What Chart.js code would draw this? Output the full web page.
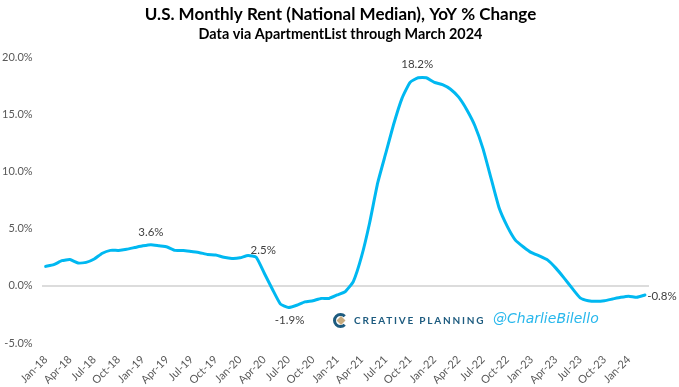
<!DOCTYPE html>
<html>
<head>
<meta charset="utf-8">
<title>U.S. Monthly Rent</title>
<script src="https://cdn.jsdelivr.net/npm/chart.js@4"></script>
<style>
  html, body { margin: 0; padding: 0; background: #fff; }
  canvas { display: block; }
</style>
</head>
<body>
<canvas id="chartRent" width="679" height="387"></canvas>
<script>
const months = [
  "Jan-18","Feb-18","Mar-18","Apr-18","May-18","Jun-18","Jul-18","Aug-18","Sep-18","Oct-18","Nov-18","Dec-18",
  "Jan-19","Feb-19","Mar-19","Apr-19","May-19","Jun-19","Jul-19","Aug-19","Sep-19","Oct-19","Nov-19","Dec-19",
  "Jan-20","Feb-20","Mar-20","Apr-20","May-20","Jun-20","Jul-20","Aug-20","Sep-20","Oct-20","Nov-20","Dec-20",
  "Jan-21","Feb-21","Mar-21","Apr-21","May-21","Jun-21","Jul-21","Aug-21","Sep-21","Oct-21","Nov-21","Dec-21",
  "Jan-22","Feb-22","Mar-22","Apr-22","May-22","Jun-22","Jul-22","Aug-22","Sep-22","Oct-22","Nov-22","Dec-22",
  "Jan-23","Feb-23","Mar-23","Apr-23","May-23","Jun-23","Jul-23","Aug-23","Sep-23","Oct-23","Nov-23","Dec-23",
  "Jan-24","Feb-24","Mar-24"
];
const rentYoY = [
  1.7, 1.85, 2.2, 2.3, 2.0, 2.05, 2.35, 2.85, 3.1, 3.1, 3.2, 3.35,
  3.5, 3.6, 3.5, 3.4, 3.1, 3.1, 3.0, 2.9, 2.75, 2.7, 2.5, 2.4,
  2.45, 2.65, 2.5, 1.1, -0.3, -1.6, -1.9, -1.7, -1.4, -1.3, -1.1, -1.1,
  -0.8, -0.5, 0.4, 2.55, 5.5, 9.0, 11.6, 14.2, 16.4, 17.8, 18.2, 18.2,
  17.8, 17.6, 17.2, 16.5, 15.4, 14.0, 12.0, 9.4, 6.8, 5.2, 4.0, 3.4,
  2.9, 2.6, 2.25, 1.55, 0.7, -0.2, -1.05, -1.3, -1.35, -1.3, -1.15, -1.0,
  -0.9, -1.0, -0.8
];
// month index -> text shown next to the line
const labelIndexes = [13, 26, 30, 46, 74];
const labelTexts = ["3.6%", "2.5%", "-1.9%", "18.2%", "-0.8%"];

const pointLabels = {
  id: "pointLabels",
  afterDatasetsDraw(chart) {
    const { ctx, scales: { x, y } } = chart;
    const nudges = [[0, -12], [7, -7], [1, 13], [-1, -13], [17, 1]];
    ctx.save();
    ctx.font = "11.5px Lato";
    ctx.fillStyle = "#404040";
    ctx.textAlign = "center";
    ctx.textBaseline = "middle";
    labelIndexes.forEach((idx, i) => {
      ctx.fillText(labelTexts[i], x.getPixelForValue(idx) + nudges[i][0], y.getPixelForValue(rentYoY[idx]) + nudges[i][1]);
    });
    ctx.restore();
  },
};

const branding = {
  id: "branding",
  afterDraw(chart) {
    const ctx = chart.ctx;
    ctx.save();
    // logo ring with a gap on the right, gold diamond inside
    ctx.strokeStyle = "#1d5b7f";
    ctx.lineWidth = 3;
    ctx.beginPath();
    ctx.arc(340.5, 320.5, 6, 0.25 * Math.PI, 1.75 * Math.PI);
    ctx.stroke();
    ctx.fillStyle = "#c8ab7e";
    ctx.beginPath();
    ctx.moveTo(341, 316);
    ctx.lineTo(345.5, 320.5);
    ctx.lineTo(341, 325);
    ctx.lineTo(336.5, 320.5);
    ctx.closePath();
    ctx.fill();

    ctx.textBaseline = "middle";
    ctx.textAlign = "left";
    ctx.fillStyle = "#1d5b7f";
    ctx.font = "bold 10px Lato";
    ctx.letterSpacing = "1.8px";
    ctx.fillText("CREATIVE PLANNING", 354, 320.5);
    ctx.letterSpacing = "0px";
    ctx.fillStyle = "#27b7ec";
    ctx.font = "italic 14px 'DejaVu Sans'";
    ctx.fillText("@CharlieBilello", 493, 319);
    ctx.restore();
  },
};

new Chart(document.getElementById("chartRent"), {
  type: "line",
  data: {
    labels: months,
    datasets: [{
      data: rentYoY,
      borderColor: "#00b8f1",
      borderWidth: 3,
      pointRadius: 0,
      tension: 0.15,
      borderCapStyle: "round",
    }],
  },
  options: {
    responsive: false,
    animation: false,
    // left padding pushes the centred titles a little right of the canvas middle
    layout: { padding: { left: 2, right: 0, top: 4, bottom: 0 } },
    plugins: {
      legend: { display: false },
      tooltip: { enabled: false },
      title: {
        display: true,
        text: "U.S. Monthly Rent (National Median), YoY % Change",
        color: "#000",
        font: { family: "Lato", size: 17, weight: "bold" },
        padding: { top: 0, bottom: 0 },
      },
      subtitle: {
        display: true,
        text: "Data via ApartmentList through March 2024",
        color: "#000",
        font: { family: "Lato", size: 14.4, weight: "bold" },
        padding: { top: 1, bottom: 14.5 },
      },
    },
    scales: {
      x: {
        offset: true,
        grid: { display: false },
        border: { display: false },
        afterFit(scale) { scale.height = 44; },
        ticks: {
          autoSkip: false,
          maxRotation: 45,
          minRotation: 45,
          color: "#595959",
          padding: 2,
          font: { family: "Lato", size: 11 },
          callback(value, index) {
            return index % 3 === 0 ? months[index] : "";
          },
        },
      },
      y: {
        min: -5,
        max: 20,
        afterFit(scale) { scale.width = 39.6; },
        border: { display: false },
        grid: {
          drawTicks: false,
          lineWidth: 2,
          color: (c) => (c.tick.value === 0 ? "#dcdcdc" : "transparent"),
        },
        ticks: {
          stepSize: 5,
          color: "#595959",
          padding: 9,
          font: { family: "Lato", size: 11 },
          callback: (v) => v.toFixed(1) + "%",
        },
      },
      // empty axis, only reserves the margin on the right for the -0.8% label
      rightGap: {
        position: "right",
        min: -5,
        max: 20,
        afterFit(scale) { scale.width = 30; },
        border: { display: false },
        grid: { display: false },
        ticks: { display: false },
      },
    },
  },
  plugins: [pointLabels, branding],
});
</script>
</body>
</html>
